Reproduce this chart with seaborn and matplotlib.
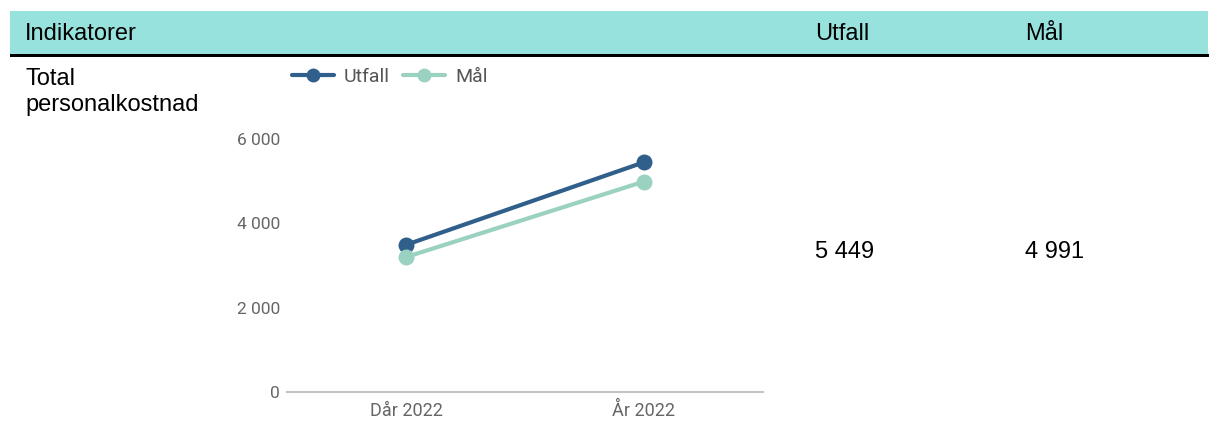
import matplotlib
matplotlib.use("Agg")
import matplotlib.pyplot as plt
from matplotlib.patches import Rectangle
from matplotlib.lines import Line2D
from matplotlib.ticker import FuncFormatter
import seaborn as sns
import pandas as pd

# Data
periods = ["Dår 2022", "År 2022"]
utfall = [3490, 5449]
maal = [3200, 4991]
series_names = ["Utfall", "Mål"]
y_ticks = [0, 2000, 4000, 6000]

header_cols = ["Indikatorer", "Utfall", "Mål"]
indicator_lines = ["Total", "personalkostnad"]
value_labels = ["5 449", "4 991"]

colors = {"Utfall": "#2F5F8A", "Mål": "#9BD1C1"}

df = pd.DataFrame({
    "period": periods * 2,
    "value": utfall + maal,
    "serie": [series_names[0]] * 2 + [series_names[1]] * 2,
})

sns.set_theme(style="white")
plt.rcParams["font.family"] = ["Liberation Sans", "DejaVu Sans"]

W, H = 1209, 441
fig = plt.figure(figsize=(W / 100, H / 100), dpi=100)

def fx(px):
    return px / W

def fy(py):
    return 1 - py / H

# Table header band and rule
fig.patches.append(Rectangle((fx(10), fy(54)), fx(1198), 43 / H,
                             transform=fig.transFigure, facecolor="#98E2DE",
                             edgecolor="none", zorder=0))
fig.patches.append(Rectangle((fx(10), fy(57)), fx(1199), 3 / H,
                             transform=fig.transFigure, facecolor="black",
                             edgecolor="none", zorder=1))

txt_font = dict(fontsize=17, color="black", va="center", ha="left",
                family=["Liberation Sans", "DejaVu Sans"])
fig.text(fx(25), fy(34), header_cols[0], **txt_font)
fig.text(fx(815), fy(34), header_cols[1], **txt_font)
fig.text(fx(1025), fy(34), header_cols[2], **txt_font)

fig.text(fx(25), fy(79), indicator_lines[0], **txt_font)
fig.text(fx(25), fy(105), indicator_lines[1], **txt_font)
fig.text(fx(815), fy(252), value_labels[0], **txt_font)
fig.text(fx(1025), fy(252), value_labels[1], **txt_font)

# Line chart
ax = fig.add_axes([fx(287), fy(392), fx(763 - 287), (392 - 139) / H])
sns.lineplot(data=df, x="period", y="value", hue="serie", hue_order=series_names,
             palette=colors, marker="o", markersize=11.5, markeredgewidth=0,
             linewidth=3, ax=ax, legend=False, sort=False)

ax.set_xlim(-0.5, 1.5)
ax.set_ylim(0, 6000)
ax.set_yticks(y_ticks)
ax.yaxis.set_major_formatter(FuncFormatter(lambda v, p: f"{int(v):,}".replace(",", " ")))
ax.set_xticks(range(len(periods)))
ax.set_xticklabels(periods)
ax.set_xlabel("")
ax.set_ylabel("")
ax.grid(False)
for side in ["top", "right", "left"]:
    ax.spines[side].set_visible(False)
ax.spines["bottom"].set_color("#C4C4C4")
ax.spines["bottom"].set_linewidth(1.5)
ax.spines["bottom"].set_bounds(-0.5, 1.5)
ax.tick_params(axis="x", length=0, labelsize=13, labelcolor="#666666", pad=7)
ax.tick_params(axis="y", length=0, labelsize=12.5, labelcolor="#666666", pad=5)
for lbl in ax.get_xticklabels() + ax.get_yticklabels():
    lbl.set_family(["Roboto", "DejaVu Sans"])

# Legend above the plot
handles = [Line2D([0], [0], color=colors[s], lw=3, marker="o", markersize=9)
           for s in series_names]
leg = fig.legend(handles, series_names, loc="center left",
                 bbox_to_anchor=(fx(274), fy(77)), ncol=2, frameon=False,
                 handlelength=2.2, handletextpad=0.5, columnspacing=0.65,
                 prop={"family": ["Roboto", "DejaVu Sans"], "size": 14})
for t in leg.get_texts():
    t.set_color("#555555")

fig.savefig("out.png", dpi=100)
